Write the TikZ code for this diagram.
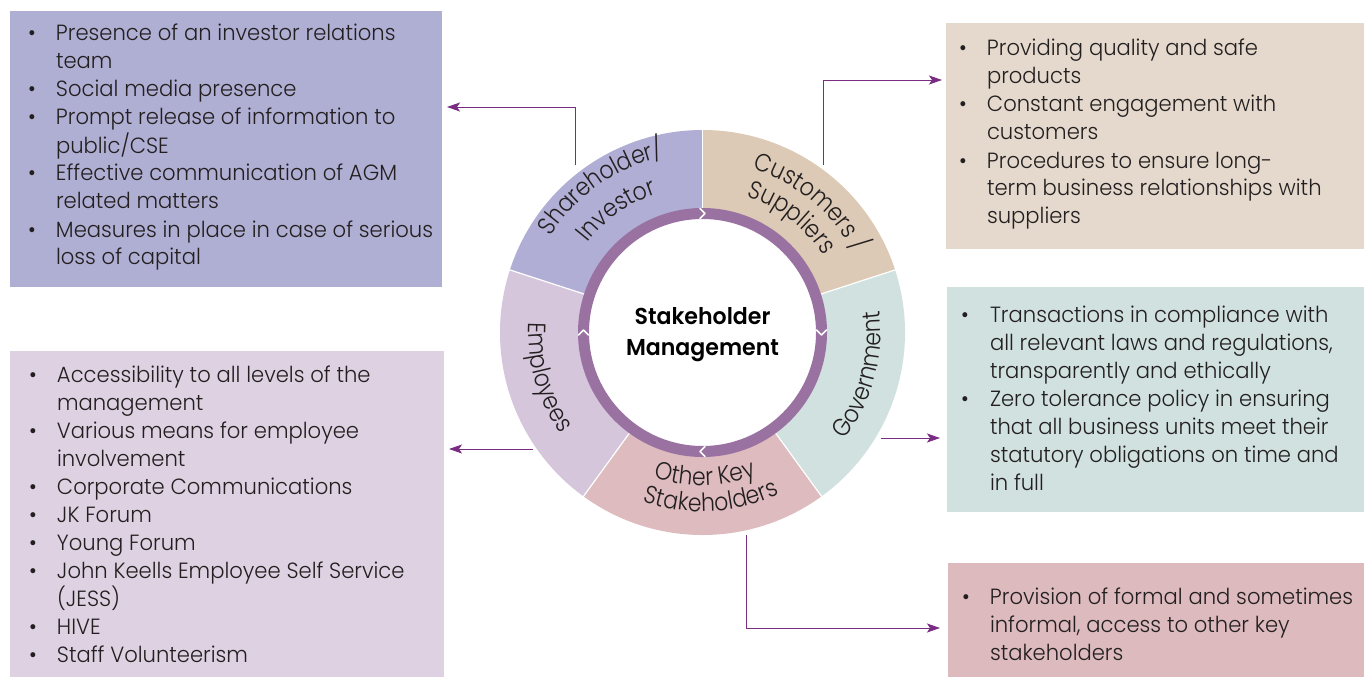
\documentclass[tikz,border=0pt]{standalone}
\usepackage{fontspec}
\usetikzlibrary{calc,arrows.meta,decorations.text}
\IfFontExistsTF{Poppins Light}{\newfontfamily\ltfont{Poppins Light}[FakeStretch=0.96]\newfontfamily\sgfont{Poppins Light}[FakeStretch=0.88]}{\newfontfamily\ltfont{Poppins}[FakeStretch=0.96]\newfontfamily\sgfont{Poppins}[FakeStretch=0.88]}
\IfFontExistsTF{Poppins SemiBold}{\newfontfamily\sbfont{Poppins SemiBold}[FakeStretch=0.96]}{\newfontfamily\sbfont{Poppins}[FakeStretch=0.96]}
\definecolor{txt}{HTML}{231F20}
\definecolor{shbox}{HTML}{AFAED3}
\definecolor{shseg}{HTML}{B0AED4}
\definecolor{cubox}{HTML}{E4D9CC}
\definecolor{cuseg}{HTML}{DCCAB6}
\definecolor{gobox}{HTML}{D0E1DF}
\definecolor{goseg}{HTML}{D0E1DF}
\definecolor{embox}{HTML}{DED2E2}
\definecolor{emseg}{HTML}{D5C6DC}
\definecolor{otbox}{HTML}{DCBABD}
\definecolor{otseg}{HTML}{DDBBBE}
\definecolor{ringc}{HTML}{9A72A1}
\definecolor{arrowc}{HTML}{7A2C83}
\newcommand\bodyfont{\ltfont\fontsize{22}{28}\selectfont}
\newcommand\segfont{\sgfont\fontsize{25}{28}\selectfont}
\newlength\bind
\newcommand\bpt[1]{\hbox{\makebox[\bind][l]{\textbullet}#1}}
\newcommand\cnt[1]{\hbox{\hspace*{\bind}#1}}
\newcommand\annsec[5]{\fill[#1] ($(C)+(#2:#4pt)$) arc[start angle=#2,end angle=#3,radius=#4pt] -- ($(C)+(#3:#5pt)$) arc[start angle=#3,end angle=#2,radius=#5pt] -- cycle;}
\newcommand\arctext[5]{\path[decorate,decoration={text along path,text align=#5,text={|\segfont\color{txt}|#4}}] ($(C)+(#1:#3pt)$) arc[start angle=#1,end angle=#2,radius=#3pt];}
\begin{document}
\begin{tikzpicture}[x=1pt,y=1pt,
  conn/.style={draw=arrowc,line width=1pt,-{Stealth[length=13pt,width=9pt,inset=3pt]}},
  panel/.style={anchor=north west,inner sep=0pt,outer sep=0pt},
  btext/.style={anchor=base west,inner sep=0pt,outer sep=0pt,text=txt,font=\bodyfont},
  chev/.style={draw=white,line width=1.6pt,line cap=round,line join=round}]
\useasboundingbox (0,0) rectangle (1364,-677);
\fill[white] (0,0) rectangle (1364,-677);
\coordinate (C) at (702.5,-332.5);
% panels
\node[panel,fill=shbox,minimum width=432pt,minimum height=276pt] (shpanel) at (10,-11) {};
\node[panel,fill=cubox,minimum width=418pt,minimum height=226pt] (cupanel) at (946,-23) {};
\node[panel,fill=gobox,minimum width=417pt,minimum height=225pt] (gopanel) at (947,-287) {};
\node[panel,fill=embox,minimum width=434pt,minimum height=326pt] (empanel) at (10,-351) {};
\node[panel,fill=otbox,minimum width=416pt,minimum height=114pt] (otpanel) at (948,-563) {};
% panel texts
\node[btext] (shtext) at (28,-41) {\setlength\bind{28pt}\vtop{%
\bpt{Presence of an investor relations}\cnt{team}%
\bpt{Social media presence}%
\bpt{Prompt release of information to}\cnt{public/CSE}%
\bpt{Effective communication of AGM}\cnt{related matters}%
\bpt{Measures in place in case of serious}\cnt{loss of capital}}};
\node[btext] (cutext) at (959,-56) {\setlength\bind{28pt}\vtop{%
\bpt{Providing quality and safe}\cnt{products}%
\bpt{Constant engagement with}\cnt{customers}%
\bpt{Procedures to ensure long-}\cnt{term business relationships with}\cnt{suppliers}}};
\node[btext] (gotext) at (961,-322) {\setlength\bind{29pt}\vtop{%
\bpt{Transactions in compliance with}\cnt{all relevant laws and regulations,}\cnt{transparently and ethically}%
\bpt{Zero tolerance policy in ensuring}\cnt{that all business units meet their}\cnt{statutory obligations on time and}\cnt{in full}}};
\node[btext] (emtext) at (29,-382) {\setlength\bind{28pt}\vtop{%
\bpt{Accessibility to all levels of the}\cnt{management}%
\bpt{Various means for employee}\cnt{involvement}%
\bpt{Corporate Communications}%
\bpt{JK Forum}%
\bpt{Young Forum}%
\bpt{John Keells Employee Self Service}\cnt{(JESS)}%
\bpt{HIVE}%
\bpt{Staff Volunteerism}}};
\node[btext] (ottext) at (962,-604) {\setlength\bind{28pt}\vtop{%
\bpt{Provision of formal and sometimes}\cnt{informal, access to other key}\cnt{stakeholders}}};
% ring segments
\annsec{shseg}{90}{162}{202.5}{124}
\annsec{cuseg}{18}{90}{202.5}{124}
\annsec{goseg}{-54}{18}{202.5}{124}
\annsec{otseg}{-126}{-54}{202.5}{124}
\annsec{emseg}{162}{234}{202.5}{124}
\foreach \a in {90,18,-54,-126,162}{\draw[white,line width=1.2pt] ($(C)+(\a:124pt)$) -- ($(C)+(\a:203pt)$);}
\fill[white] (C) circle (114pt);
\draw[ringc,line width=11pt] (C) circle (119pt);
% chevrons
\draw[chev] (700,-208.5) -- (705,-213.5) -- (700,-218.5);
\draw[chev] (816.5,-330) -- (821.5,-335) -- (826.5,-330);
\draw[chev] (705,-446.5) -- (700,-451.5) -- (705,-456.5);
\draw[chev] (578.5,-335) -- (583.5,-330) -- (588.5,-335);
% segment labels
\arctext{167}{83}{180}{Shareholder/}{center}
\arctext{167}{83}{146}{Investor}{center}
\arctext{73}{0}{171}{Customers /}{left}
\arctext{72}{0}{143}{Suppliers}{left}
\arctext{-55}{25}{178}{Government}{center}
\arctext{156}{236}{174}{Employees}{center}
\arctext{-130}{-48}{153}{Other Key}{center}
\arctext{-128}{-46}{179}{Stakeholders}{center}
% centre
\node[font=\sbfont\fontsize{23}{31}\selectfont,text=black,anchor=base,inner sep=0pt] (ctr1) at (702.5,-324) {Stakeholder};
\node[font=\sbfont\fontsize{23}{31}\selectfont,text=black,anchor=base,inner sep=0pt] (ctr2) at (702.5,-355) {Management};
% connectors
\coordinate (shA) at (575,-165); \coordinate (shT) at (447,-107);
\coordinate (cuA) at (823,-165); \coordinate (cuT) at (942,-80);
\coordinate (goA) at (881,-438); \coordinate (goT) at (940,-438);
\coordinate (emA) at (533,-449); \coordinate (emT) at (449,-449);
\coordinate (otA) at (746,-535); \coordinate (otT) at (940,-628);
\draw[conn] (shA) |- (shT);
\draw[conn] (cuA) |- (cuT);
\draw[conn] (goA) -- (goT);
\draw[conn] (emA) -- (emT);
\draw[conn] (otA) |- (otT);
\end{tikzpicture}
\end{document}
